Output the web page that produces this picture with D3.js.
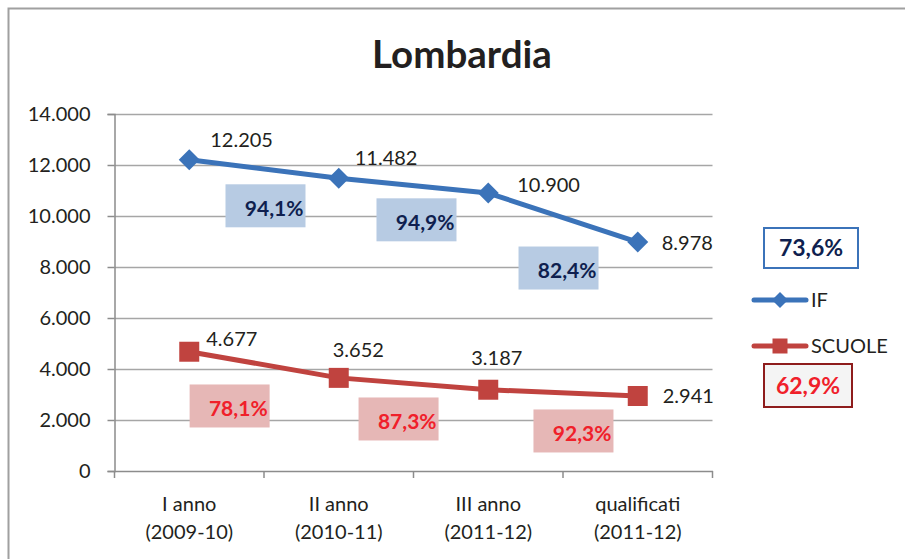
<!DOCTYPE html>
<html>
<head>
<meta charset="utf-8">
<script src="https://cdn.jsdelivr.net/npm/d3@7"></script>
<style>
  body { margin: 0; background: #fff; }
  svg { display: block; font-family: Lato, "Open Sans", sans-serif; }
</style>
</head>
<body>
<svg id="chart" width="905" height="559"></svg>
<script>
// data
const categories = [['I anno', '(2009-10)'], ['II anno', '(2010-11)'], ['III anno', '(2011-12)'], ['qualificati', '(2011-12)']];
const ifValues = [12205, 11482, 10900, 8978];
const scuoleValues = [4677, 3652, 3187, 2941];
const ifRates = ['94,1%', '94,9%', '82,4%'];
const scuoleRates = ['78,1%', '87,3%', '92,3%'];
const ifTotal = '73,6%';
const scuoleTotal = '62,9%';
const yTicks = [0, 2000, 4000, 6000, 8000, 10000, 12000, 14000];

// where Excel put the rate boxes: [category position, value]
const ifRatePos = [[0.51, 10400], [1.52, 9850], [2.47, 7960]];
const scuoleRatePos = [[0.27, 2550], [1.40, 2040], [2.57, 1570]];
// manual data-label nudges [dx, dy] in px
const ifLabelOffset = [[21, -13], [16, -13], [29, -1], [24, 8]];
const scuoleLabelOffset = [[17, -6], [-6, -21], [-17, -25], [25, 7]];

const COLORS = {
  IF: '#3b73b9',
  SCUOLE: '#c0433f',
  GRID: '#a6a6a6',
  AXIS: '#8c8c8c',
  TEXT: '#231f20'
};

const svg = d3.select('#chart');
const fmt = d3.format(',.0f');
const itFmt = v => fmt(v).replace(/,/g, '.');

// outer chart frame (only left/top visible in the crop)
svg.append('path')
  .attr('d', 'M8.5,559V8.5H905')
  .attr('fill', 'none')
  .attr('stroke', '#a0a0a0')
  .attr('stroke-width', 2);

svg.append('text')
  .attr('x', 462)
  .attr('y', 68)
  .attr('text-anchor', 'middle')
  .style('font-size', '38.5px')
  .style('font-weight', 'bold')
  .style('fill', COLORS.TEXT)
  .text('Lombardia');

const plot = { left: 114.5, right: 712.5, top: 114, bottom: 471 };

const x = d3.scaleBand()
  .domain(d3.range(categories.length))
  .range([plot.left, plot.right]);

// continuous version of the category axis, for things placed between categories
const xPos = d3.scaleLinear()
  .domain([-0.5, categories.length - 0.5])
  .range([plot.left, plot.right]);

const y = d3.scaleLinear()
  .domain([0, 14000])
  .range([plot.bottom, plot.top]);

const cx = i => x(i) + x.bandwidth() / 2;

// gridlines
svg.append('g')
  .selectAll('line')
  .data(yTicks.filter(d => d > 0))
  .join('line')
  .attr('x1', plot.left)
  .attr('x2', plot.right)
  .attr('y1', d => Math.round(y(d)) + 0.5)
  .attr('y2', d => Math.round(y(d)) + 0.5)
  .attr('stroke', COLORS.GRID)
  .attr('stroke-width', 1.5);

// y axis
const yAxis = svg.append('g')
  .attr('transform', `translate(${plot.left},0)`)
  .call(d3.axisLeft(y).tickValues(yTicks).tickSize(7).tickPadding(17).tickFormat(itFmt));
yAxis.select('.domain').attr('stroke', COLORS.AXIS).attr('stroke-width', 1.5);
yAxis.selectAll('.tick line').attr('stroke', COLORS.AXIS).attr('stroke-width', 1.5);
yAxis.selectAll('.tick text')
  .style('font-size', '20px')
  .style('font-family', 'Lato, sans-serif')
  .style('fill', COLORS.TEXT);

// x axis
const xAxis = svg.append('g')
  .attr('transform', `translate(0,${plot.bottom})`)
  .call(d3.axisBottom(x).tickSize(0).tickFormat(''));
xAxis.select('.domain').attr('stroke', COLORS.AXIS).attr('stroke-width', 1.5);
xAxis.selectAll('.tick').remove();

const boundaries = d3.range(categories.length + 1).map(i => xPos(i - 0.5));
xAxis.selectAll('line.sep')
  .data(boundaries)
  .join('line')
  .attr('class', 'sep')
  .attr('x1', d => d).attr('x2', d => d)
  .attr('y1', 0).attr('y2', 7)
  .attr('stroke', COLORS.AXIS)
  .attr('stroke-width', 1.5);

const xLabels = svg.append('g')
  .selectAll('text')
  .data(categories)
  .join('text')
  .attr('x', (d, i) => cx(i))
  .attr('y', 511)
  .attr('text-anchor', 'middle')
  .style('font-size', '20px')
  .style('fill', COLORS.TEXT);
xLabels.append('tspan').attr('x', (d, i) => cx(i)).text(d => d[0]);
xLabels.append('tspan').attr('x', (d, i) => cx(i)).attr('dy', 28).text(d => d[1]);

// rate boxes between categories
function rateBoxes(rates, pos, fill, textColor) {
  const g = svg.append('g')
    .selectAll('g')
    .data(rates)
    .join('g')
    .attr('transform', (d, i) => `translate(${xPos(pos[i][0])},${y(pos[i][1])})`);
  g.append('rect')
    .attr('x', -40).attr('y', -21.5)
    .attr('width', 80).attr('height', 43)
    .attr('fill', fill);
  g.append('text')
    .attr('x', 38).attr('y', 10)
    .attr('text-anchor', 'end')
    .style('font-size', '21px')
    .style('font-weight', 'bold')
    .style('fill', textColor)
    .text(d => d);
}
rateBoxes(ifRates, ifRatePos, '#b7cbe3', '#0f1f4f');
rateBoxes(scuoleRates, scuoleRatePos, '#e6b7b6', '#f0202a');

// lines + markers
const line = d3.line().x((d, i) => cx(i)).y(d => y(d));

function series(values, color, marker, offsets) {
  svg.append('path')
    .datum(values)
    .attr('d', line)
    .attr('fill', 'none')
    .attr('stroke', color)
    .attr('stroke-width', 5)
    .attr('stroke-linejoin', 'round');

  svg.append('g')
    .selectAll('path')
    .data(values)
    .join('path')
    .attr('transform', (d, i) => `translate(${cx(i)},${y(d)})`)
    .attr('d', marker)
    .attr('fill', color);

  svg.append('g')
    .selectAll('text')
    .data(values)
    .join('text')
    .attr('x', (d, i) => cx(i) + offsets[i][0])
    .attr('y', (d, i) => y(d) + offsets[i][1])
    .style('font-size', '20px')
    .style('fill', COLORS.TEXT)
    .text(itFmt);
}
const diamond = 'M0,-10.5L10.5,0L0,10.5L-10.5,0Z';
const square = 'M-10,-10H10V10H-10Z';
series(ifValues, COLORS.IF, diamond, ifLabelOffset);
series(scuoleValues, COLORS.SCUOLE, square, scuoleLabelOffset);

// legend
const legend = [
  { name: 'IF', color: COLORS.IF, marker: 'M0,-8L8,0L0,8L-8,0Z', y: 300 },
  { name: 'SCUOLE', color: COLORS.SCUOLE, marker: 'M-7.5,-7.5H7.5V7.5H-7.5Z', y: 346 }
];
const lg = svg.append('g').selectAll('g').data(legend).join('g')
  .attr('transform', d => `translate(0,${d.y})`);
lg.append('line')
  .attr('x1', 754).attr('x2', 806)
  .attr('stroke', d => d.color).attr('stroke-width', 5).attr('stroke-linecap', 'round');
lg.append('path')
  .attr('transform', 'translate(780,0)')
  .attr('d', d => d.marker)
  .attr('fill', d => d.color);
lg.append('text')
  .attr('x', 811).attr('y', 7)
  .style('font-size', '20px')
  .style('fill', COLORS.TEXT)
  .text(d => d.name);

// overall rate boxes
const totals = [
  { label: ifTotal, x: 764, y: 228, w: 94, h: 40, fill: '#ffffff', stroke: '#3b73b9', color: '#0f1f4f', size: 23 },
  { label: scuoleTotal, x: 764, y: 364, w: 88, h: 43, fill: '#f4f4f4', stroke: '#8e1c1c', color: '#f0202a', size: 23 }
];
const tg = svg.append('g').selectAll('g').data(totals).join('g');
tg.append('rect')
  .attr('x', d => d.x).attr('y', d => d.y)
  .attr('width', d => d.w).attr('height', d => d.h)
  .attr('fill', d => d.fill)
  .attr('stroke', d => d.stroke)
  .attr('stroke-width', 2);
tg.append('text')
  .attr('x', d => d.x + d.w / 2)
  .attr('y', d => d.y + d.h / 2 + 8)
  .attr('text-anchor', 'middle')
  .style('font-size', d => d.size + 'px')
  .style('font-weight', 'bold')
  .style('fill', d => d.color)
  .text(d => d.label);
</script>
</body>
</html>
